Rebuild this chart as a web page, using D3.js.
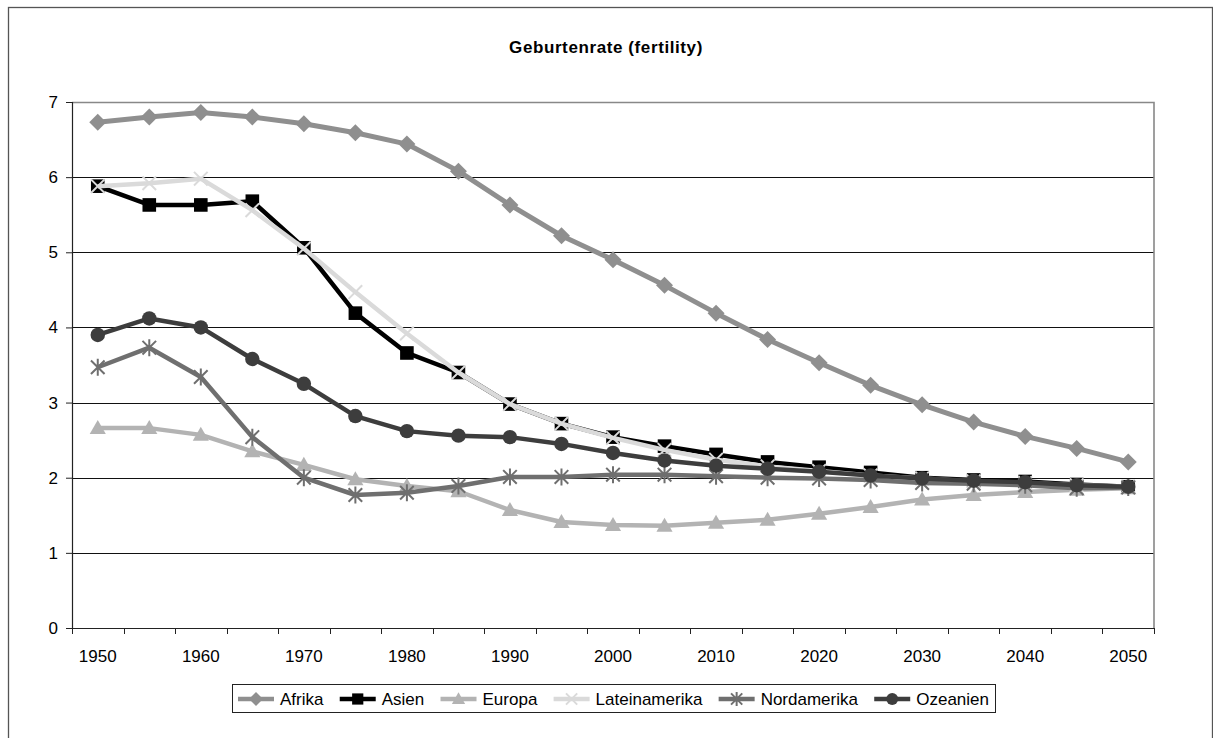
<!DOCTYPE html>
<html>
<head>
<meta charset="utf-8">
<script src="https://cdn.jsdelivr.net/npm/d3@7"></script>
<style>
  html, body { margin: 0; padding: 0; background: #fff; }
  svg { display: block; font-family: Arial, "Liberation Sans", sans-serif; }
</style>
</head>
<body>
<svg id="chart" width="1213" height="738"></svg>
<script>
const years = ["1950","1955","1960","1965","1970","1975","1980","1985","1990","1995","2000",
               "2005","2010","2015","2020","2025","2030","2035","2040","2045","2050"];
const xTickLabels = ["1950","1960","1970","1980","1990","2000","2010","2020","2030","2040","2050"];
const yTicks = [0,1,2,3,4,5,6,7];

const afrika        = [6.73,6.80,6.86,6.80,6.71,6.59,6.44,6.08,5.63,5.22,4.90,4.56,4.19,3.84,3.53,3.23,2.97,2.74,2.55,2.39,2.21];
const asien         = [5.88,5.63,5.63,5.68,5.06,4.19,3.66,3.40,2.98,2.72,2.54,2.42,2.31,2.21,2.14,2.07,2.00,1.97,1.95,1.91,1.88];
const europa        = [2.66,2.66,2.57,2.35,2.17,1.98,1.89,1.82,1.57,1.41,1.37,1.36,1.40,1.44,1.52,1.61,1.71,1.77,1.81,1.84,1.86];
const lateinamerika = [5.88,5.92,5.98,5.56,5.05,4.47,3.92,3.40,2.98,2.72,2.53,2.37,2.24,2.15,2.09,2.03,1.99,1.95,1.93,1.90,1.88];
const nordamerika   = [3.47,3.73,3.34,2.54,2.00,1.77,1.80,1.89,2.01,2.01,2.04,2.04,2.02,2.00,1.99,1.97,1.93,1.92,1.90,1.86,1.87];
const ozeanien      = [3.90,4.12,4.00,3.58,3.25,2.82,2.62,2.56,2.54,2.45,2.33,2.23,2.16,2.12,2.08,2.03,1.99,1.96,1.94,1.90,1.88];

const seriesNames = ["Afrika","Asien","Europa","Lateinamerika","Nordamerika","Ozeanien"];
const seriesValues = [afrika, asien, europa, lateinamerika, nordamerika, ozeanien];
const seriesColors = ["#8f8f8f","#000000","#b3b3b3","#dadada","#6f6f6f","#3d3d3d"];
const seriesMarkers = ["diamond","square","triangle","x","asterisk","circle"];

const svg = d3.select("#chart");
const W = 1213, H = 738;

// outer chart frame
svg.append("rect").attr("x", 8.5).attr("y", 7.5).attr("width", W - 9).attr("height", H)
   .attr("fill", "#fff").attr("stroke", "#555").attr("stroke-width", 1.3);

const plot = { left: 72, right: 1154, top: 102, bottom: 628 };
const x = d3.scaleBand().domain(years).range([plot.left, plot.right]).paddingInner(0).paddingOuter(0);
const y = d3.scaleLinear().domain([0, 7]).range([plot.bottom, plot.top]);

// title
svg.append("text").attr("x", 606).attr("y", 53).attr("text-anchor", "middle")
   .attr("font-weight", "bold").attr("font-size", 17).attr("letter-spacing", 0.6).attr("fill", "#000")
   .text("Geburtenrate (fertility)");

// gridlines
svg.append("g").selectAll("line").data(yTicks.filter(v => v > 0 && v < 7)).join("line")
   .attr("x1", plot.left).attr("x2", plot.right)
   .attr("y1", d => Math.round(y(d)) + 0.5).attr("y2", d => Math.round(y(d)) + 0.5)
   .attr("stroke", "#111").attr("stroke-width", 1);

// plot border (top + right)
svg.append("path")
   .attr("d", `M${plot.left},${plot.top + 0.5}H${plot.right}V${plot.bottom}`)
   .attr("fill", "none").attr("stroke", "#888").attr("stroke-width", 1.6);

// y axis
const yAxis = d3.axisLeft(y).tickValues(yTicks).tickSize(6).tickPadding(8).tickFormat(d3.format("d"));
const gy = svg.append("g").attr("transform", `translate(${plot.left},0)`).call(yAxis);
gy.select(".domain").attr("stroke", "#222").attr("stroke-width", 1.2);
gy.selectAll(".tick line").attr("stroke", "#222");
gy.selectAll(".tick text").attr("font-size", 17).attr("fill", "#000")
  .attr("font-family", "Arial, 'Liberation Sans', sans-serif");

// x axis: ticks at category boundaries, labels at every second category centre
const boundaries = years.map(d => x(d)).concat([plot.right]);
const gx = svg.append("g");
gx.append("line").attr("x1", plot.left - 6).attr("x2", plot.right)
  .attr("y1", plot.bottom + 0.5).attr("y2", plot.bottom + 0.5)
  .attr("stroke", "#222").attr("stroke-width", 1.2);
gx.selectAll("line.tk").data(boundaries).join("line").attr("class", "tk")
  .attr("x1", d => Math.round(d) + 0.5).attr("x2", d => Math.round(d) + 0.5)
  .attr("y1", plot.bottom).attr("y2", plot.bottom + 6)
  .attr("stroke", "#222");
gx.selectAll("text").data(xTickLabels).join("text")
  .attr("x", d => x(d) + x.bandwidth() / 2).attr("y", plot.bottom + 34)
  .attr("text-anchor", "middle").attr("font-size", 17).attr("fill", "#000")
  .text(d => d);

// marker drawing
function drawMarker(g, type, color, size) {
  const s = size;
  if (type === "diamond") {
    g.append("path").attr("d", `M0,${-s}L${s},0L0,${s}L${-s},0Z`).attr("fill", color);
  } else if (type === "square") {
    g.append("rect").attr("x", -s * 0.8).attr("y", -s * 0.8).attr("width", s * 1.6).attr("height", s * 1.6).attr("fill", color);
  } else if (type === "triangle") {
    g.append("path").attr("d", `M0,${-s * 0.95}L${s * 0.95},${s * 0.7}L${-s * 0.95},${s * 0.7}Z`).attr("fill", color);
  } else if (type === "circle") {
    g.append("circle").attr("r", s * 0.85).attr("fill", color);
  } else if (type === "x") {
    const a = s * 0.8;
    g.append("path").attr("d", `M${-a},${-a}L${a},${a}M${a},${-a}L${-a},${a}`)
      .attr("stroke", color).attr("stroke-width", 2).attr("fill", "none");
  } else if (type === "asterisk") {
    const a = s * 0.8;
    g.append("path").attr("d", `M${-a},${-a}L${a},${a}M${a},${-a}L${-a},${a}M0,${-s}L0,${s}`)
      .attr("stroke", color).attr("stroke-width", 2).attr("fill", "none");
  }
}

const line = d3.line().x((d, i) => x(years[i]) + x.bandwidth() / 2).y(d => y(d));

seriesValues.forEach((vals, si) => {
  const g = svg.append("g");
  g.append("path").datum(vals).attr("d", line)
    .attr("fill", "none").attr("stroke", seriesColors[si])
    .attr("stroke-width", si === 0 ? 5 : 4.5).attr("stroke-linejoin", "round");
  vals.forEach((v, i) => {
    const mg = g.append("g").attr("transform", `translate(${x(years[i]) + x.bandwidth() / 2},${y(v)})`);
    drawMarker(mg, seriesMarkers[si], seriesColors[si], 8.5);
  });
});

// legend
const legend = { left: 232, right: 995, top: 684, bottom: 712 };
svg.append("rect").attr("x", legend.left + 0.5).attr("y", legend.top + 0.5)
   .attr("width", legend.right - legend.left).attr("height", legend.bottom - legend.top)
   .attr("fill", "#fff").attr("stroke", "#222").attr("stroke-width", 1);

const lg = svg.append("g");
const cy = (legend.top + legend.bottom) / 2 + 1;
const texts = seriesNames.map(n => {
  const t = lg.append("text").attr("font-size", 17).attr("fill", "#000").attr("y", cy + 6).text(n);
  return t;
});
const widths = texts.map(t => t.node().getComputedTextLength());
const sampleW = 36, sampleGap = 6;
const inner = legend.right - legend.left - 12;
const totalText = d3.sum(widths);
const itemGap = (inner - totalText - seriesNames.length * (sampleW + sampleGap)) / (seriesNames.length - 1);
let cx = legend.left + 6;
seriesNames.forEach((n, si) => {
  lg.append("line").attr("x1", cx).attr("x2", cx + sampleW).attr("y1", cy).attr("y2", cy)
    .attr("stroke", seriesColors[si]).attr("stroke-width", 4.5);
  const mg = lg.append("g").attr("transform", `translate(${cx + sampleW / 2},${cy})`);
  drawMarker(mg, seriesMarkers[si], seriesColors[si], 7);
  texts[si].attr("x", cx + sampleW + sampleGap);
  cx += sampleW + sampleGap + widths[si] + itemGap;
});
</script>
</body>
</html>
